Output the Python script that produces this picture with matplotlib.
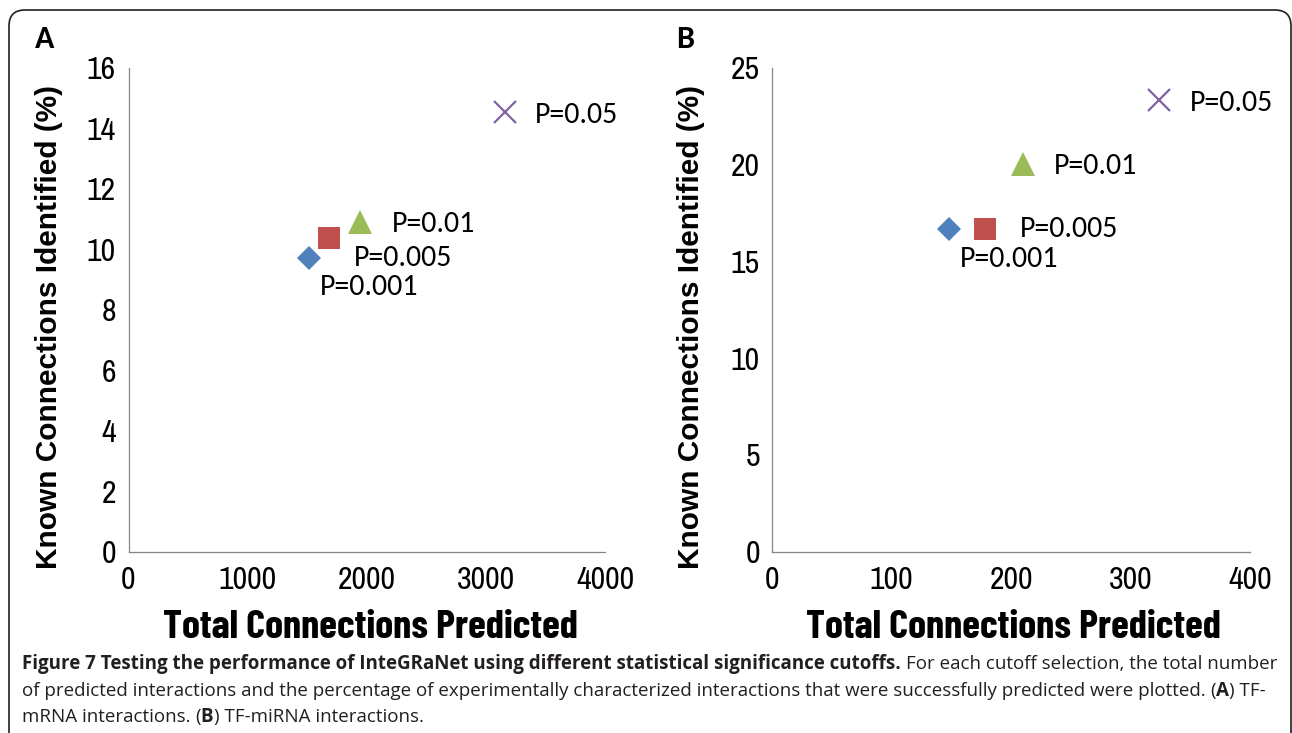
import matplotlib
matplotlib.use('Agg')
import matplotlib.pyplot as plt
from matplotlib.patches import FancyBboxPatch
from matplotlib.transforms import IdentityTransform

W, H = 1292, 733

# ---- data ----
cutoffs = ['P=0.001', 'P=0.005', 'P=0.01', 'P=0.05']
a_total = [1518, 1686, 1941, 3161]
a_known = [9.72, 10.36, 10.88, 14.52]
b_total = [148, 178.5, 209.6, 324]
b_known = [16.67, 16.67, 20.0, 23.32]
a_xticks = [0, 1000, 2000, 3000, 4000]
a_yticks = [0, 2, 4, 6, 8, 10, 12, 14, 16]
b_xticks = [0, 100, 200, 300, 400]
b_yticks = [0, 5, 10, 15, 20, 25]
xlabel = 'Total Connections Predicted'
ylabel = 'Known Connections Identified (%)'

markers = ['D', 's', '^', 'x']
colors = ['#4F81BD', '#C0504D', '#9BBB59', '#8064A2']
msizes = [12.5, 16.5, 17.5, 16]
# label offsets (pixels, baseline) per point
a_offsets = [(11, -37), (25, -28), (32, -10), (30, -11)]
b_offsets = [(11, -38), (34, -8), (31, -10), (31, -11)]

TICKF = ['Archivo Narrow', 'DejaVu Sans']
XLABF = ['Barlow Condensed', 'DejaVu Sans']
YLABF = ['Liberation Sans', 'DejaVu Sans']
PFONT = ['Carlito', 'Open Sans', 'DejaVu Sans']
CAPF = ['Open Sans', 'DejaVu Sans']

fig = plt.figure(figsize=(W / 100, H / 100), dpi=100)
fig.patch.set_facecolor('white')
renderer = fig.canvas.get_renderer()


def px_axes(l, r, t, b):
    return fig.add_axes([l / W, 1 - b / H, (r - l) / W, (b - t) / H])


def setup(ax, xt, yt, xs, ys, offs):
    ax.set_xlim(xt[0], xt[-1])
    ax.set_ylim(yt[0], yt[-1])
    ax.set_xticks(xt)
    ax.set_yticks(yt)
    ax.set_xticklabels([str(v) for v in xt])
    ax.set_yticklabels([str(v) for v in yt])
    for s in ['top', 'right']:
        ax.spines[s].set_visible(False)
    for s in ['left', 'bottom']:
        ax.spines[s].set_color('#868686')
        ax.spines[s].set_linewidth(0.9)
    ax.tick_params(axis='both', length=0, labelsize=23, colors='black')
    ax.tick_params(axis='x', pad=10)
    ax.tick_params(axis='y', pad=9)
    for lab in ax.get_xticklabels() + ax.get_yticklabels():
        lab.set_family(TICKF)
    for i in range(len(cutoffs)):
        if markers[i] == 'x':
            ax.plot([xs[i]], [ys[i]], marker='x', ms=msizes[i], mew=1.6,
                    color=colors[i], linestyle='none', clip_on=False)
        else:
            ax.plot([xs[i]], [ys[i]], marker=markers[i], ms=msizes[i], mew=0,
                    color=colors[i], linestyle='none', clip_on=False)
        ax.annotate(cutoffs[i], (xs[i], ys[i]), xytext=offs[i],
                    textcoords='offset pixels', ha='left', va='baseline',
                    fontsize=21.5, family=PFONT, color='black')


axA = px_axes(128.5, 605, 67.5, 551.7)
axB = px_axes(772.3, 1250, 67.5, 551.7)
setup(axA, a_xticks, a_yticks, a_total, a_known, a_offsets)
setup(axB, b_xticks, b_yticks, b_total, b_known, b_offsets)


def ftext(xp, yp, s, **kw):
    return fig.text(xp / W, 1 - yp / H, s, **kw)


def width_of(s, size, weight, fam):
    t = fig.text(0, 0, s, fontsize=size, fontweight=weight, family=fam)
    w = t.get_window_extent(renderer).width
    t.remove()
    return w


# axis labels (size chosen to span the reference width)
xl_size = 20 * 415 / width_of(xlabel, 20, 'bold', XLABF)
for cx in (370, 1013):
    ftext(cx, 627, xlabel, ha='center', va='center', fontsize=xl_size,
          fontweight='bold', family=XLABF, color='black')
for cx in (49, 691):
    ftext(cx, 327, ylabel, ha='center', va='center', rotation=90,
          fontsize=21.5, fontweight='bold', family=YLABF, color='black')

# panel letters
ftext(35, 39, 'A', ha='left', va='center', fontsize=23, fontweight='bold',
      family=PFONT, color='black')
ftext(676, 39, 'B', ha='left', va='center', fontsize=23, fontweight='bold',
      family=PFONT, color='black')

# border
border = FancyBboxPatch((9, -40), 1282, 733 - 10 + 40,
                        boxstyle='round,pad=0,rounding_size=16',
                        transform=IdentityTransform(), fill=False,
                        edgecolor='#231f20', linewidth=1.2)
fig.patches.append(border)

# caption
CAPC = '#231f20'
line1 = [('Figure 7 Testing the performance of InteGRaNet using different '
          'statistical significance cutoffs.', 'bold'), None,
         ('For each cutoff selection, the total number', 'normal')]
line2 = [('of predicted interactions and the percentage of experimentally '
          'characterized interactions that were successfully predicted were '
          'plotted.', 'normal'), None, ('(', 'normal'), ('A', 'bold'),
         (') TF-', 'normal')]
line3 = [('mRNA interactions.', 'normal'), None, ('(', 'normal'),
         ('B', 'bold'), (') TF-miRNA interactions.', 'normal')]


def gap_of(size):
    return (width_of('x x', size, 'normal', CAPF)
            - width_of('xx', size, 'normal', CAPF))


def line_width(pieces, size):
    w = 0
    for p in pieces:
        w += gap_of(size) if p is None else width_of(p[0], size, p[1], CAPF)
    return w


base = 12.0
cap_size = base * (1262 - 22) / line_width(line2, base)


def draw_line(pieces, x0, yb, size):
    gap = gap_of(size)
    x = x0
    for p in pieces:
        if p is None:
            x += gap
            continue
        t = ftext(x, yb, p[0], ha='left', va='baseline', fontsize=size,
                  fontweight=p[1], family=CAPF, color=CAPC)
        x += t.get_window_extent(renderer).width


draw_line(line1, 22, 669, cap_size)
draw_line(line2, 22, 696, cap_size)
draw_line(line3, 22, 722, cap_size)

fig.savefig('out.png', dpi=100, facecolor='white')
